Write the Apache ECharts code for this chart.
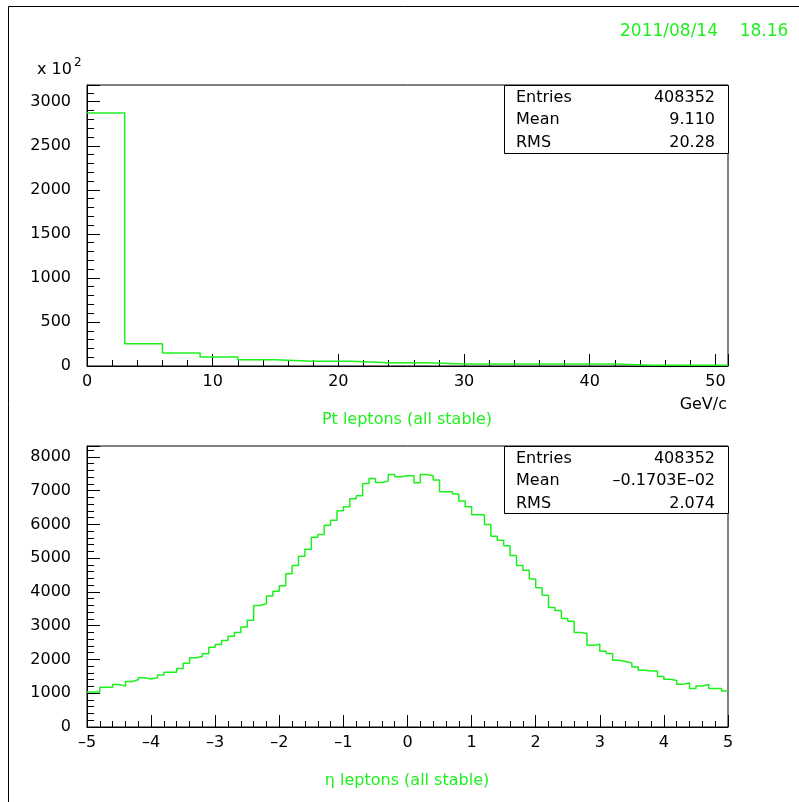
<!DOCTYPE html>
<html>
<head>
<meta charset="utf-8">
<script src="https://cdn.jsdelivr.net/npm/echarts@6/dist/echarts.min.js"></script>
<style>
  html, body { margin: 0; padding: 0; background: #fff; }
  #chart { width: 799px; height: 802px; }
</style>
</head>
<body>
<div id="chart"></div>
<script>
// ---- Pt of stable leptons: 17 bins of 3 GeV/c, counts in units of 10^2 ----
const ptBinStart = 0;
const ptBinWidth = 3;
const ptCounts = [2872, 254, 148, 102, 72, 53, 53, 38, 38, 23, 23, 23, 23, 23, 8, 8, 8];
const ptRange = [0, 51];
const ptCountRange = [0, 3190];
const ptXMajor = 10, ptXMinor = 2;
const ptYMajor = 500, ptYMinor = 100;
const ptStats = [['Entries', '408352'], ['Mean', '9.110'], ['RMS', '20.28']];

// ---- eta of stable leptons: 100 bins of 0.1 from -5 to 5 ----
const etaBinStart = -5;
const etaBinWidth = 0.1;
const etaCounts = [
  1040, 1040, 1180, 1180, 1260, 1210, 1350, 1400, 1460, 1420,
  1460, 1540, 1620, 1620, 1735, 1890, 2050, 2090, 2170, 2360,
  2440, 2560, 2686, 2795, 2960, 3160, 3600, 3650, 3880, 4020,
  4180, 4540, 4780, 5055, 5265, 5620, 5700, 5975, 6120, 6400,
  6520, 6757, 6850, 7210, 7360, 7240, 7280, 7477, 7410, 7440,
  7440, 7230, 7477, 7440, 7310, 6963, 6963, 6900, 6690, 6520,
  6282, 6282, 5995, 5650, 5530, 5370, 5078, 4780, 4640, 4380,
  4120, 3900, 3538, 3450, 3215, 3134, 2797, 2767, 2421, 2451,
  2243, 2175, 1977, 1938, 1898, 1780, 1680, 1660, 1660, 1493,
  1414, 1375, 1266, 1305, 1138, 1217, 1256, 1138, 1138, 1067
];
const etaRange = [-5, 5];
const etaCountRange = [0, 8320];
const etaXMajor = 1, etaXMinor = 0.2;
const etaYMajor = 1000, etaYMinor = 200;
const etaStats = [['Entries', '408352'], ['Mean', '\u20130.1703E\u201302'], ['RMS', '2.074']];

const dateText = '2011/08/14';
const timeText = '18.16';

const GREEN = '#1ef01e';
const FONT = 'DejaVu Sans';

// histogram outline as a stepped polyline through the bin edges
function stepPoints(start, width, counts) {
  const pts = counts.map((c, i) => [start + i * width, c]);
  pts.push([start + counts.length * width, counts[counts.length - 1]]);
  return pts;
}

function dashNum(v) {
  const s = String(Math.round(v * 1000) / 1000);
  return v < 0 ? '\u2013' + s.slice(1) : s;
}

function mainX(grid, range, major) {
  return {
    type: 'value', gridIndex: grid, min: range[0], max: range[1], interval: major,
    position: 'bottom',
    axisLine: { show: true, onZero: false, lineStyle: { color: '#000', width: 1 } },
    axisTick: { show: true, inside: true, length: 12, lineStyle: { color: '#000' } },
    axisLabel: {
      show: true, color: '#000', fontFamily: FONT, fontSize: 16, margin: 8,
      formatter: v => (Math.abs(v / major - Math.round(v / major)) < 1e-6 ? dashNum(v) : '')
    },
    splitLine: { show: false }
  };
}
function minorX(grid, range, minor) {
  return {
    type: 'value', gridIndex: grid, min: range[0], max: range[1], interval: minor,
    position: 'bottom',
    axisLine: { show: false, onZero: false },
    axisTick: { show: true, inside: true, length: 6, lineStyle: { color: '#000' } },
    axisLabel: { show: false },
    splitLine: { show: false }
  };
}
function mainY(grid, range, major) {
  return {
    type: 'value', gridIndex: grid, min: range[0], max: range[1], interval: major,
    position: 'left',
    axisLine: { show: true, onZero: false, lineStyle: { color: '#000', width: 1 } },
    axisTick: { show: true, inside: true, length: 13, lineStyle: { color: '#000' } },
    axisLabel: {
      show: true, color: '#000', fontFamily: FONT, fontSize: 16, margin: 16,
      formatter: v => (Math.abs(v / major - Math.round(v / major)) < 1e-6 ? String(v) : '')
    },
    splitLine: { show: false }
  };
}
function minorY(grid, range, minor) {
  return {
    type: 'value', gridIndex: grid, min: range[0], max: range[1], interval: minor,
    position: 'left',
    axisLine: { show: false, onZero: false },
    axisTick: { show: true, inside: true, length: 7, lineStyle: { color: '#000' } },
    axisLabel: { show: false },
    splitLine: { show: false }
  };
}

function statsBox(x, y, w, h, rows) {
  const els = [{
    type: 'rect', z: 50,
    shape: { x: x + 0.5, y: y + 0.5, width: w, height: h },
    style: { fill: '#fff', stroke: '#000', lineWidth: 1 }
  }];
  rows.forEach((r, i) => {
    const cy = y + 13 + i * 22.3;
    els.push({ type: 'text', z: 51, x: x + 12, y: cy,
      style: { text: r[0], fill: '#000', font: '16px "' + FONT + '"', textVerticalAlign: 'middle', textAlign: 'left' } });
    els.push({ type: 'text', z: 51, x: x + w - 13, y: cy,
      style: { text: r[1], fill: '#000', font: '16px "' + FONT + '"', textVerticalAlign: 'middle', textAlign: 'right' } });
  });
  return els;
}

function txt(x, y, text, opts) {
  return {
    type: 'text', z: 60, x: x, y: y,
    style: Object.assign({ text: text, fill: '#000', font: '16px "' + FONT + '"', textVerticalAlign: 'middle', textAlign: 'left' }, opts || {})
  };
}

const chart = echarts.init(document.getElementById('chart'), null, { renderer: 'canvas' });

chart.setOption({
  animation: false,
  backgroundColor: '#fff',
  grid: [
    { left: 87, top: 85, width: 641, height: 281, show: true, borderColor: '#000', borderWidth: 1, backgroundColor: 'transparent', outerBoundsMode: 'none', containLabel: false },
    { left: 87, top: 446, width: 641, height: 281, show: true, borderColor: '#000', borderWidth: 1, backgroundColor: 'transparent', outerBoundsMode: 'none', containLabel: false }
  ],
  xAxis: [
    mainX(0, ptRange, ptXMajor),
    minorX(0, ptRange, ptXMinor),
    mainX(1, etaRange, etaXMajor),
    minorX(1, etaRange, etaXMinor)
  ],
  yAxis: [
    mainY(0, ptCountRange, ptYMajor),
    minorY(0, ptCountRange, ptYMinor),
    mainY(1, etaCountRange, etaYMajor),
    minorY(1, etaCountRange, etaYMinor)
  ],
  series: [
    {
      type: 'line', name: 'Pt leptons', xAxisIndex: 0, yAxisIndex: 0,
      step: 'end', symbol: 'none', clip: true,
      lineStyle: { color: GREEN, width: 1.5 },
      data: stepPoints(ptBinStart, ptBinWidth, ptCounts)
    },
    {
      type: 'line', name: 'eta leptons', xAxisIndex: 2, yAxisIndex: 2,
      step: 'end', symbol: 'none', clip: true,
      lineStyle: { color: GREEN, width: 1.5 },
      data: stepPoints(etaBinStart, etaBinWidth, etaCounts)
    }
  ],
  graphic: [
    // canvas frame
    { type: 'polyline', z: 40, shape: { points: [[8.5, 802], [8.5, 6.5], [799, 6.5]] },
      style: { stroke: '#000', lineWidth: 1, fill: null } },
    txt(669, 32, dateText, { fill: GREEN, textAlign: 'center', font: '17px "' + FONT + '"' }),
    txt(764, 32, timeText, { fill: GREEN, textAlign: 'center', font: '17px "' + FONT + '"' }),
    txt(37, 70, 'x 10'),
    txt(74, 63, '2', { font: '12px "' + FONT + '"' }),
    txt(727, 405, 'GeV/c', { textAlign: 'right' }),
    txt(407, 420, 'Pt leptons (all stable)', { fill: GREEN, textAlign: 'center' }),
    txt(407, 781, '\u03b7 leptons (all stable)', { fill: GREEN, textAlign: 'center' })
  ].concat(statsBox(504, 85, 224, 68, ptStats), statsBox(504, 446, 224, 67, etaStats))
});
</script>
</body>
</html>
